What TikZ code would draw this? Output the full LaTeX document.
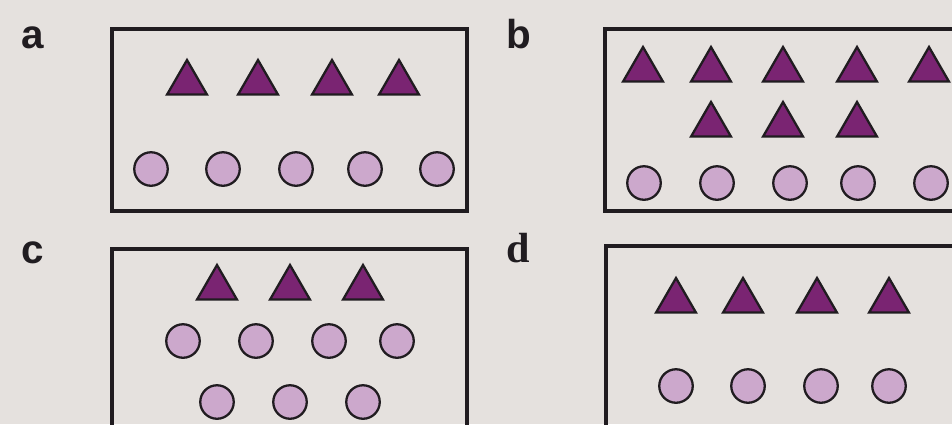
\documentclass[tikz,border=0pt]{standalone}
\usepackage{fontspec}
\setmainfont{Liberation Sans}
\newfontfamily\serifd{Liberation Serif}
\usetikzlibrary{shapes.geometric}
\definecolor{paper}{RGB}{229,225,222}
\definecolor{ink}{RGB}{32,28,32}
\definecolor{plum}{RGB}{122,36,114}
\definecolor{lilac}{RGB}{204,168,204}
\begin{document}
\begin{tikzpicture}[
  x=0.02cm, y=-0.02cm,
  panel/.style={draw=ink, line width=1.8pt},
  tri/.style={regular polygon, regular polygon sides=3, draw=ink, fill=plum, line width=1.3pt, inner sep=0pt, minimum size=0.92cm},
  ball/.style={circle, draw=ink, fill=lilac, line width=1.3pt, inner sep=0pt, minimum size=0.67cm},
  tag/.style={font=\fontsize{23}{23}\selectfont\bfseries, anchor=base west, inner sep=0pt, text=ink}
]

\useasboundingbox (0,0) rectangle (952,424);
\fill[paper] (0,0) rectangle (952,424);
\clip (0,0) rectangle (952,424);

% a: four triangles over five circles
\begin{scope}
  \node[tag] (la) at (21,48) {a};
  \draw[panel] (112,29) rectangle (467,211);
  \foreach \x [count=\i] in {187,258,332,399}
    \node[tri] (a-t\i) at (\x,83) {};
  \foreach \x [count=\i] in {151,223,296,365,437}
    \node[ball] (a-c\i) at (\x,169) {};
\end{scope}

% b: eight triangles over five circles
\begin{scope}
  \node[tag] (lb) at (506,48) {b};
  \draw[panel] (605,29) rectangle (980,211);
  \foreach \x [count=\i] in {643,711,783,857,929}
    \node[tri] (b-t\i) at (\x,70) {};
  \foreach \x [count=\i] in {711,783,857}
    \node[tri] (b-u\i) at (\x,125) {};
  \foreach \x [count=\i] in {644,717,790,858,931}
    \node[ball] (b-c\i) at (\x,183) {};
\end{scope}

% c: three triangles over seven circles
\begin{scope}
  \node[tag] (lc) at (21,263) {c};
  \draw[panel] (112,249) rectangle (467,450);
  \foreach \x [count=\i] in {217,290,363}
    \node[tri] (c-t\i) at (\x,288) {};
  \foreach \x [count=\i] in {183,256,329,397}
    \node[ball] (c-c\i) at (\x,341) {};
  \foreach \x [count=\i] in {217,290,363}
    \node[ball] (c-d\i) at (\x,402) {};
\end{scope}

% d: four triangles over four circles
\begin{scope}
  \node[tag, font=\fontsize{24}{24}\selectfont\serifd\bfseries] (ld) at (506,262) {d};
  \draw[panel] (606,246) rectangle (980,450);
  \foreach \x [count=\i] in {676,743,817,889}
    \node[tri] (d-t\i) at (\x,301) {};
  \foreach \x [count=\i] in {676,748,821,889}
    \node[ball] (d-c\i) at (\x,386) {};
\end{scope}

\end{tikzpicture}
\end{document}
